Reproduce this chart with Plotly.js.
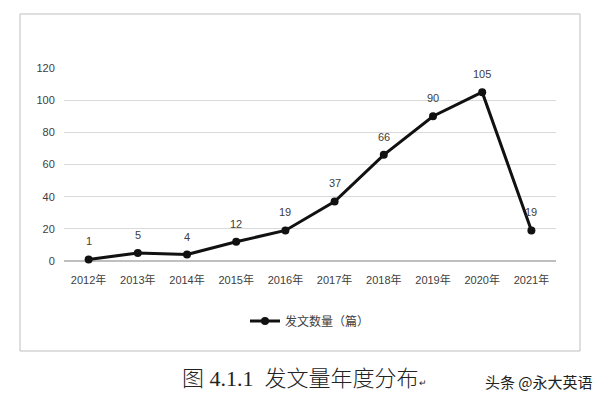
<!DOCTYPE html>
<html><head><meta charset="utf-8">
<script src="https://cdn.plot.ly/plotly-3.0.1.min.js"></script>
<style>html,body{margin:0;padding:0;background:#fff}#c{width:605px;height:403px}</style>
</head><body><div id="c"></div>
<script>
const years = ["2012年","2013年","2014年","2015年","2016年","2017年","2018年","2019年","2020年","2021年"];
const counts = [1,5,4,12,19,37,66,90,105,19];
const seriesName = "发文数量（篇）";
const yTicks = [0,20,40,60,80,100,120];

const L=64, R=556, T=68, B=261;
const px = v => (v-L)/(R-L);
const py = v => (B-v)/(B-T);

const trace = {
  x: years, y: counts, type:'scatter', mode:'lines+markers',
  name: seriesName,
  line:{color:'#111', width:3},
  marker:{color:'#111', size:8},
  cliponaxis:false
};
const labelAnn = years.map((c,i)=>({
  x:c, y:counts[i], xref:'x', yref:'y', text:String(counts[i]), showarrow:false,
  yshift:18, xanchor:'center', yanchor:'middle',
  font:{family:'Liberation Sans, Noto Sans CJK SC', size:11, color:'#404040'}
}));
const layout = {
  width:605, height:403,
  margin:{l:L, r:605-R, t:T, b:403-B},
  paper_bgcolor:'#fff', plot_bgcolor:'#fff',
  showlegend:true,
  legend:{orientation:'h', x:0.5, xanchor:'center', y:py(321), yanchor:'middle',
          font:{family:'Noto Sans CJK SC', size:12, color:'#404040'}},
  xaxis:{type:'category', range:[-0.5,9.5], showgrid:false, zeroline:false,
         showline:false, ticks:'outside', ticklen:9, tickcolor:'rgba(0,0,0,0)',
         tickfont:{family:'Liberation Sans, Noto Sans CJK SC', size:11, color:'#404040'}},
  yaxis:{range:[0,120], tickvals:yTicks, showgrid:true, gridcolor:'#d9d9d9', gridwidth:1,
         zeroline:true, zerolinecolor:'#bfbfbf', zerolinewidth:1.5,
         ticks:'outside', ticklen:6, tickcolor:'rgba(0,0,0,0)',
         tickfont:{family:'Liberation Sans', size:11, color:'#404040'}, automargin:false},
  shapes:[{type:'rect', xref:'paper', yref:'paper', x0:px(20), x1:px(580), y0:py(351), y1:py(14),
           line:{color:'#bfbfbf', width:1}}],
  annotations:labelAnn.concat([
    {xref:'paper', yref:'paper', x:px(304), y:py(378), xanchor:'center', yanchor:'middle', showarrow:false,
     text:"图 4.1.1  发文量年度分布<span style='font-size:9px'>↵</span>",
     font:{family:'Liberation Serif, Noto Sans CJK SC', size:22, color:'#222', weight:300}},
    {xref:'paper', yref:'paper', x:px(539), y:py(381), xanchor:'center', yanchor:'middle', showarrow:false,
     text:"头条 @永大英语", font:{family:'Noto Sans CJK SC', size:15, color:'#222'}}
  ])
};
Plotly.newPlot('c',[trace],layout,{displayModeBar:false,staticPlot:true});
</script></body></html>
